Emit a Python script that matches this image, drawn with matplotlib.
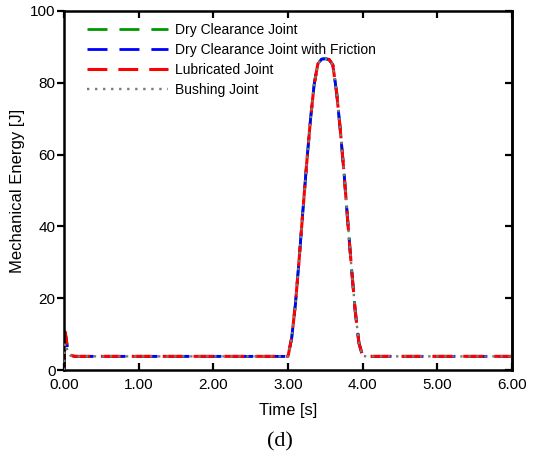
import matplotlib
matplotlib.use("Agg")
import matplotlib.pyplot as plt

# ---- data ----
time = [0.000, 0.008, 0.015, 0.025, 0.040, 0.060, 0.090, 0.120, 0.150,
        3.000, 3.050, 3.100, 3.150, 3.200, 3.250, 3.300, 3.350, 3.400, 3.450,
        3.500, 3.550, 3.600, 3.650, 3.700, 3.750, 3.800, 3.850, 3.900, 3.950,
        4.000, 4.050, 6.000]

dry = [0.0, 9.5, 10.5, 9.3, 7.0, 5.0, 4.2, 3.9, 3.8,
       3.8, 9.0, 18.5, 31.0, 44.5, 57.5, 69.5, 79.5, 85.3, 86.6,
       86.7, 86.5, 85.0, 77.5, 67.0, 55.0, 41.5, 28.5, 16.5, 7.5,
       3.9, 3.8, 3.8]

dry_friction = [0.0, 9.4, 10.4, 9.2, 6.9, 5.0, 4.2, 3.9, 3.8,
                3.8, 9.0, 18.5, 31.0, 44.5, 57.5, 69.5, 79.5, 85.3, 86.6,
                86.7, 86.5, 85.0, 77.5, 67.0, 55.0, 41.5, 28.5, 16.5, 7.5,
                3.9, 3.8, 3.8]

lubricated = [0.0, 9.6, 10.6, 9.4, 7.1, 5.1, 4.2, 3.9, 3.8,
              3.8, 9.0, 18.5, 31.0, 44.5, 57.5, 69.5, 79.5, 85.3, 86.6,
              86.7, 86.5, 85.0, 77.5, 67.0, 55.0, 41.5, 28.5, 16.5, 7.5,
              3.9, 3.8, 3.8]

bushing = [0.0, 6.0, 7.5, 7.0, 5.8, 4.6, 4.0, 3.8, 3.8,
           3.8, 9.0, 18.5, 31.0, 44.5, 57.5, 69.5, 79.5, 85.3, 86.6,
           86.7, 86.5, 85.0, 77.5, 67.0, 55.0, 41.5, 28.5, 16.5, 7.5,
           3.9, 3.8, 3.8]

labels = ["Dry Clearance Joint", "Dry Clearance Joint with Friction",
          "Lubricated Joint", "Bushing Joint"]
x_ticks = [0, 1, 2, 3, 4, 5, 6]
x_tick_labels = ["0.00", "1.00", "2.00", "3.00", "4.00", "5.00", "6.00"]
y_ticks = [0, 20, 40, 60, 80, 100]

plt.rcParams['font.family'] = ['Liberation Sans', 'DejaVu Sans']

fig = plt.figure(figsize=(5.36, 4.53), dpi=100)
ax = fig.add_axes([64 / 536, 83 / 453, 448 / 536, 359 / 453])

ax.plot(time, dry, color="#009900", lw=2.0, dashes=(7.2, 4.3), label=labels[0])
ax.plot(time, dry_friction, color="#0000ff", lw=2.0, dashes=(7.2, 4.3), label=labels[1])
ax.plot(time, lubricated, color="#ff0000", lw=2.2, dashes=(6.5, 3.6), label=labels[2])
ax.plot(time, bushing, color="#7a7a7a", lw=1.7, dashes=(1, 2.4), label=labels[3], zorder=3)

ax.set_xlim(0, 6)
ax.set_ylim(0, 100)
ax.set_xticks(x_ticks)
ax.set_xticklabels(x_tick_labels)
ax.set_yticks(y_ticks)

ax.tick_params(axis="x", direction="in", top=True, bottom=True, length=5, width=1.6,
               labelsize=11, pad=6)
ax.tick_params(axis="y", which="both", left=True, right=False, direction="out",
               length=5, width=1.6, labelsize=11, pad=1)
# right side ticks drawn inward
ax2 = ax.secondary_yaxis("right")
ax2.set_yticks(y_ticks)
ax2.tick_params(direction="in", length=5, width=1.6, labelright=False)
ax2.spines["right"].set_linewidth(1.8)

for s in ax.spines.values():
    s.set_linewidth(1.8)

ax.set_xlabel("Time [s]", fontsize=12, labelpad=8)
ax.set_ylabel("Mechanical Energy [J]", fontsize=12, labelpad=4)

leg = ax.legend(loc="upper left", bbox_to_anchor=(0.03, 0.995), frameon=False,
                fontsize=10, handlelength=5.8, handletextpad=0.55,
                labelspacing=0.45, borderaxespad=0.3)

fig.text(0.522, 0.024, "(d)", fontsize=16, family=["Liberation Serif", "DejaVu Serif"],
         ha="center", va="center")

fig.savefig("out.png", dpi=100)
